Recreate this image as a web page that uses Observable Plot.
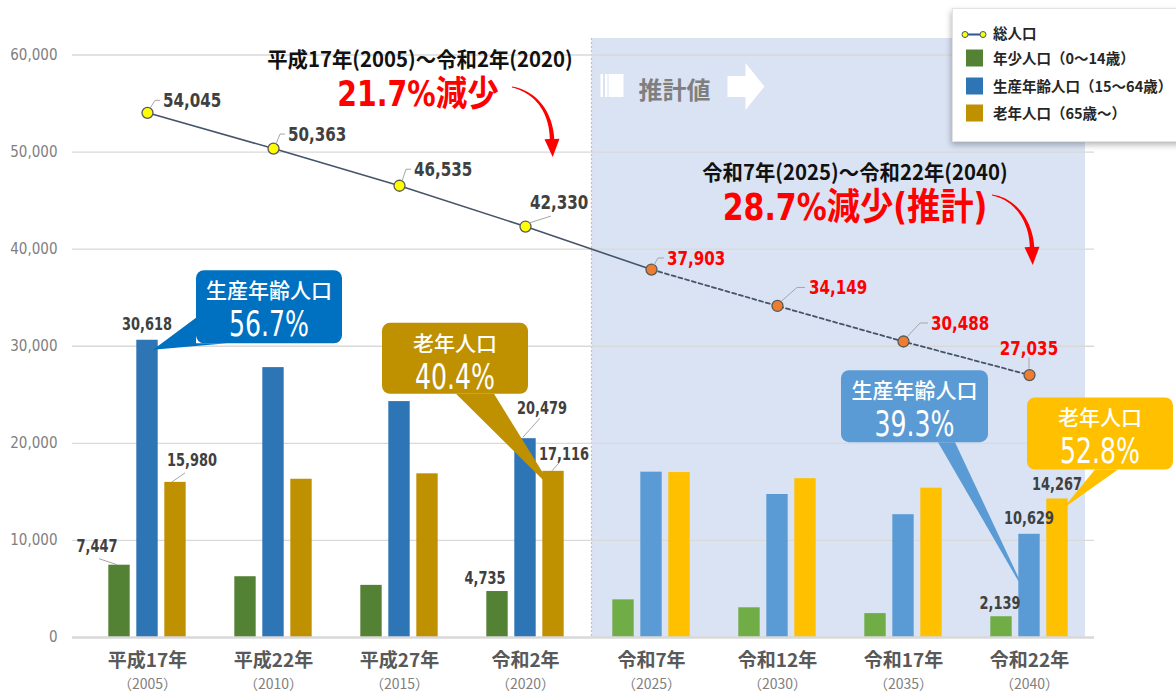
<!DOCTYPE html>
<html lang="ja">
<head>
<meta charset="utf-8">
<script src="https://cdn.jsdelivr.net/npm/d3@7"></script>
<script src="https://cdn.jsdelivr.net/npm/@observablehq/plot@0.6"></script>
<style>
html,body{margin:0;padding:0;background:#fff;overflow:hidden;}
#wrap{position:relative;width:1176px;height:696px;overflow:hidden;}
#legend{position:absolute;left:952px;top:8px;width:240px;height:132px;background:#fff;border:1px solid #e3e3e3;box-shadow:-1px 3px 6px rgba(0,0,0,0.28);font-family:"Noto Sans CJK JP",sans-serif;font-weight:700;font-size:14.5px;color:#262626;}
.li{position:absolute;left:40px;height:20px;line-height:20px;white-space:nowrap;transform:translateY(-50%);}
.sw{position:absolute;left:13px;width:17px;height:17px;transform:translateY(-50%);}
.ic{position:absolute;left:8px;transform:translateY(-50%);}
</style>
</head>
<body>
<div id="wrap"><div id="chart"></div><div id="legend"></div></div>
<script>
// ---------------- data ----------------
const eras = ["平成17年","平成22年","平成27年","令和2年","令和7年","令和12年","令和17年","令和22年"];
const yearLabels = ["（2005）","（2010）","（2015）","（2020）","（2025）","（2030）","（2035）","（2040）"];
const totalPop   = [54045, 50363, 46535, 42330, 37903, 34149, 30488, 27035];
const youthPop   = [7447, 6260, 5370, 4735, 3880, 3060, 2460, 2139];
const workingPop = [30618, 27800, 24300, 20479, 17030, 14730, 12650, 10629];
const elderlyPop = [15980, 16300, 16860, 17116, 16990, 16360, 15380, 14267];
const firstProjected = 4; // 令和7年 onward = 推計値
const yTicks = [0, 10000, 20000, 30000, 40000, 50000, 60000];
const legendNames = ["総人口", "年少人口（0～14歳）", "生産年齢人口（15～64歳）", "老年人口（65歳～）"];
const periodLabels = ["平成17年(2005)～令和2年(2020)", "令和7年(2025)～令和22年(2040)"];
const projLabel = "推計値";

// ---------------- styles ----------------
const NUM = '"Liberation Sans Narrow","DejaVu Sans Condensed","Noto Sans CJK JP",sans-serif';
const JP = '"Noto Sans CJK JP",sans-serif';
const fmt = d3.format(",");
const pct = d3.format(".1f");
const series = [
  {key: "youth",   values: youthPop,   off: -28, colors: ["#548235", "#70AD47"]},
  {key: "working", values: workingPop, off: 0,   colors: ["#2E75B6", "#5B9BD5"]},
  {key: "elderly", values: elderlyPop, off: 28,  colors: ["#BF9000", "#FFC000"]}
];
const xRange = [81, 1094];
const bandW = (xRange[1] - xRange[0]) / eras.length;
const barW = 22;

const barRows = series.map(s => eras.map((era, i) => ({era, value: s.values[i], proj: i >= firstProjected, s})));
const totalRows = eras.map((era, i) => ({era, value: totalPop[i], proj: i >= firstProjected}));

// label offsets (style only)
const totalLabelStyle = [
  {dx: 16, dy: -12, a: "start", lead: [[3,-4],[8,-12],[13,-12]]},
  {dx: 15, dy: -14, a: "start", lead: [[3,-4],[7,-14],[12,-14]]},
  {dx: 15, dy: -16, a: "start", lead: [[3,-4],[7,-16],[12,-16]]},
  {dx: 5,  dy: -24, a: "start", lead: [[4,-3],[26,-10]]},
  {dx: 16, dy: -11, a: "start", lead: [[3,-4],[7,-11],[13,-11]]},
  {dx: 32, dy: -18, a: "start", lead: [[4,-4],[20,-18],[28,-18]]},
  {dx: 28, dy: -18, a: "start", lead: [[4,-4],[17,-18],[25,-18]]},
  {dx: 0,  dy: -27, a: "middle", lead: [[0,-6],[0,-17]]}
];
const barLabelStyle = [
  {s: 0, i: 0, dx: -22, dy: -19, lead: [[-2,0],[-20,-6]]},
  {s: 1, i: 0, dx: 0, dy: -16},
  {s: 2, i: 0, dx: 17, dy: -22, lead: [[-3,0],[10,-9]]},
  {s: 1, i: 3, dx: 17, dy: -31, lead: [[-2,-1],[15,-20]]},
  {s: 2, i: 3, dx: 11, dy: -17, lead: [[-1,0],[6,-8]]},
  {s: 0, i: 3, dx: -12, dy: -14},
  {s: 0, i: 7, dx: -1, dy: -14},
  {s: 1, i: 7, dx: 0, dy: -16},
  {s: 2, i: 7, dx: 0, dy: -15}
];
const callouts = [
  {s: 1, i: 0, title: "生産年齢人口", fill: "#0070C0", box: [49, -69.5, 146, 73], poly: [[6,10],[49,-22],[49,3.5],[80,3.5]]},
  {s: 2, i: 3, title: "老年人口", fill: "#BF9000", box: [-171, -148, 146, 71], poly: [[1,20],[-97,-77],[-59,-77]]},
  {s: 1, i: 7, title: "生産年齢人口", fill: "#5B9BD5", box: [-188, -163.6, 147, 72], poly: [[-1,64],[-91,-91.6],[-74,-91.6]]},
  {s: 2, i: 7, title: "老年人口", fill: "#FFC000", box: [-30, -101, 146, 72], poly: [[6,10],[38,-29],[61,-29]]}
];

// ---------------- helpers ----------------
function cx(x, era) { const bw = typeof x.bandwidth === "function" ? x.bandwidth() : 0; return x(era) + bw / 2; }
function barTop(sc, si, i) { return [cx(sc.x, eras[i]) + series[si].off, sc.y(series[si].values[i])]; }
function pathOf(pts) { return "M" + pts.map(p => p.join(",")).join("L"); }
function taperArrow(g, p0, c1, c2, p3, w0, w1, headLen, headW, color) {
  const bez = t => { const m = 1 - t; return [0,1].map(k => m*m*m*p0[k] + 3*m*m*t*c1[k] + 3*m*t*t*c2[k] + t*t*t*p3[k]); };
  const der = t => { const m = 1 - t; return [0,1].map(k => 3*m*m*(c1[k]-p0[k]) + 6*m*t*(c2[k]-c1[k]) + 3*t*t*(p3[k]-c2[k])); };
  const L = [], R = [];
  for (let j = 0; j <= 30; j++) {
    const t = j / 30, p = bez(t), d = der(t), len = Math.hypot(d[0], d[1]) || 1;
    const nx = -d[1] / len, ny = d[0] / len, w = (w0 + (w1 - w0) * t) / 2;
    L.push([p[0] + nx * w, p[1] + ny * w]); R.push([p[0] - nx * w, p[1] - ny * w]);
  }
  const d1 = der(1), len = Math.hypot(d1[0], d1[1]), ux = d1[0] / len, uy = d1[1] / len, nx = -uy, ny = ux;
  const pts = [...L, [p3[0] + nx * headW / 2, p3[1] + ny * headW / 2], [p3[0] + ux * headLen, p3[1] + uy * headLen],
               [p3[0] - nx * headW / 2, p3[1] - ny * headW / 2], ...R.reverse()];
  g.append("path").attr("d", pathOf(pts) + "Z").attr("fill", color);
}

// ---------------- custom marks ----------------
function shadeMark(index, sc, values, dims) {
  const g = d3.create("svg:g");
  const bw = sc.x.bandwidth();
  const left = sc.x(eras[firstProjected]) + 3.5;
  const right = sc.x(eras[eras.length - 1]) + bw - 7;
  const top = dims.marginTop, bottom = sc.y(0);
  g.append("rect").attr("x", left).attr("y", top).attr("width", right - left).attr("height", bottom - top).attr("fill", "#DAE3F3");
  g.append("line").attr("x1", left).attr("x2", left).attr("y1", top).attr("y2", bottom)
    .attr("stroke", "#F4B183").attr("stroke-width", 1.2).attr("stroke-dasharray", "2,2");
  // banner
  [[9, 2.5], [13.5, 2.5], [17, 15]].forEach(([o, w]) =>
    g.append("rect").attr("x", left + o).attr("y", top + 36).attr("width", w).attr("height", 23).attr("fill", "#fff"));
  g.append("text").attr("x", left + 47).attr("y", top + 50).attr("text-anchor", "start").attr("dominant-baseline", "central")
    .attr("font-family", JP).attr("font-weight", 700).attr("font-size", 24).attr("fill", "#7F7F7F").text(projLabel);
  const ax = left + 136;
  g.append("path").attr("fill", "#fff").attr("d", pathOf([[ax, top+38],[ax+18, top+38],[ax+18, top+25],[ax+37, top+48.5],[ax+18, top+72],[ax+18, top+59],[ax, top+59]]) + "Z");
  return g.node();
}

function labelsMark(index, sc) {
  const g = d3.create("svg:g");
  totalRows.forEach((d, i) => {
    const st = totalLabelStyle[i];
    const px = cx(sc.x, d.era), py = sc.y(d.value);
    g.append("path").attr("d", pathOf(st.lead.map(([a, b]) => [px + a, py + b])))
      .attr("fill", "none").attr("stroke", "#A6A6A6").attr("stroke-width", 1);
    g.append("text").attr("x", px + st.dx).attr("y", py + st.dy).attr("text-anchor", st.a)
      .attr("dominant-baseline", "central").attr("font-family", NUM).attr("font-weight", 700).attr("font-size", 20)
      .attr("data-narrow", 0.84)
      .attr("fill", d.proj ? "#FF0000" : "#404040").text(fmt(d.value));
  });
  barLabelStyle.forEach(st => {
    const [px, py] = barTop(sc, st.s, st.i);
    if (st.lead) g.append("path").attr("d", pathOf(st.lead.map(([a, b]) => [px + a, py + b])))
      .attr("fill", "none").attr("stroke", "#A6A6A6").attr("stroke-width", 1);
    g.append("text").attr("x", px + st.dx).attr("y", py + st.dy).attr("text-anchor", "middle")
      .attr("dominant-baseline", "central").attr("font-family", NUM).attr("font-weight", 700).attr("font-size", 18)
      .attr("data-narrow", 0.8)
      .attr("fill", "#404040").text(fmt(series[st.s].values[st.i]));
  });
  return g.node();
}

function calloutsMark(index, sc) {
  const g = d3.create("svg:g");
  callouts.forEach(c => {
    const [ax, ay] = barTop(sc, c.s, c.i);
    const [l, t, w, h] = c.box;
    const gg = g.append("g").attr("transform", `translate(${ax},${ay})`);
    gg.append("path").attr("d", pathOf(c.poly) + "Z").attr("fill", c.fill);
    gg.append("rect").attr("x", l).attr("y", t).attr("width", w).attr("height", h).attr("rx", 8).attr("fill", c.fill);
    gg.append("text").attr("x", l + w / 2).attr("y", t + 19).attr("text-anchor", "middle").attr("dominant-baseline", "central")
      .attr("font-family", JP).attr("font-weight", 500).attr("font-size", 21).attr("fill", "#fff").text(c.title);
    gg.append("text").attr("x", l + w / 2).attr("y", t + 54).attr("text-anchor", "middle").attr("dominant-baseline", "central")
      .attr("font-family", NUM).attr("font-weight", 400).attr("font-size", 35).attr("fill", "#fff")
      .attr("data-narrow", 0.8)
      .text(pct(series[c.s].values[c.i] / totalPop[c.i] * 100) + "%");
  });
  return g.node();
}

function headerMark(index, sc) {
  const g = d3.create("svg:g");
  const drop1 = pct((1 - totalPop[firstProjected - 1] / totalPop[0]) * 100);
  const drop2 = pct((1 - totalPop[eras.length - 1] / totalPop[firstProjected]) * 100);
  const txt = (x, y, s, size, color, fam, narrow) => g.append("text").attr("x", x).attr("y", y).attr("text-anchor", "middle")
    .attr("dominant-baseline", "central").attr("font-family", fam).attr("font-weight", 700).attr("font-size", size)
    .attr("data-narrow", narrow).attr("fill", color).text(s);
  txt(420, 58, periodLabels[0], 21, "#111", JP, 0.97);
  txt(418, 94, drop1 + "%減少", 35, "#FF0000", NUM, 0.9);
  txt(855, 171, periodLabels[1], 21, "#111", JP, 0.97);
  txt(855, 207, drop2 + "%減少(推計)", 37, "#FF0000", NUM, 0.9);
  taperArrow(g, [512, 87], [536, 92], [551, 112], [552, 139], 1, 4.5, 18, 15, "#FF0000");
  taperArrow(g, [992, 195], [1016, 199], [1031, 222], [1032, 247], 1, 4.5, 18, 15, "#FF0000");
  return g.node();
}

// ---------------- chart ----------------
const chart = Plot.plot({
  width: 1176, height: 696,
  marginLeft: 72, marginRight: 82, marginTop: 38, marginBottom: 59,
  style: {fontFamily: JP, background: "transparent", overflow: "visible"},
  x: {type: "band", domain: eras, range: xRange, padding: 0, label: null},
  y: {domain: [0, 61700], label: null},
  color: {type: "identity"},
  marks: [
    shadeMark,
    Plot.ruleY(yTicks.filter(d => d > 0), {stroke: "#D9D9D9", strokeWidth: 1.3}),
    Plot.axisY(yTicks, {tickSize: 0, tickPadding: 15, tickFormat: fmt, fontSize: 15, color: "#808080", fontFamily: NUM, label: null}),
    Plot.axisX({tickSize: 0, tickPadding: 16, fontSize: 19, fontWeight: 700, color: "#595959", label: null}),
    Plot.text(eras, {x: d => d, text: (d, i) => yearLabels[i], frameAnchor: "bottom", dy: 51, fontSize: 14, fill: "#808080"}),
    ...series.map((s, si) => Plot.barY(barRows[si], {
      x: "era", y: "value", fill: d => d.s.colors[d.proj ? 1 : 0], dx: s.off,
      insetLeft: (bandW - barW) / 2, insetRight: (bandW - barW) / 2
    })),
    Plot.ruleY([0], {stroke: "#D9D9D9", strokeWidth: 2.5}),
    Plot.line(totalRows.slice(0, firstProjected + 1), {x: "era", y: "value", stroke: "#44546A", strokeWidth: 1.6}),
    Plot.line(totalRows.slice(firstProjected), {x: "era", y: "value", stroke: "#44546A", strokeWidth: 1.8, strokeDasharray: "4,3"}),
    Plot.dot(totalRows, {x: "era", y: "value", r: 5.5, fill: d => d.proj ? "#ED7D31" : "#FFFF00", stroke: "#595959", strokeWidth: 1.3}),
    labelsMark,
    calloutsMark,
    headerMark
  ]
});
document.getElementById("chart").appendChild(chart);

// condense numeric labels (reference uses a narrow face)
chart.querySelectorAll("text[data-narrow]").forEach(t => {
  const f = +t.getAttribute("data-narrow");
  const L = t.getComputedTextLength();
  if (L > 0 && f > 0) { t.setAttribute("textLength", (L * f).toFixed(1)); t.setAttribute("lengthAdjust", "spacingAndGlyphs"); }
});

// ---------------- legend ----------------
const legend = document.getElementById("legend");
const rowsY = [24, 49, 77, 104];
const swatches = [null, series[0].colors[0], series[1].colors[0], series[2].colors[0]];
legendNames.forEach((name, k) => {
  if (k === 0) {
    const ic = document.createElement("div");
    ic.className = "ic"; ic.style.top = rowsY[k] + "px";
    ic.innerHTML = '<svg width="26" height="10"><line x1="4" y1="5" x2="22" y2="5" stroke="#2F5597" stroke-width="2"/><circle cx="4" cy="5" r="3" fill="#FFFF00" stroke="#2F5597" stroke-width="1"/><circle cx="22" cy="5" r="3" fill="#FFFF00" stroke="#2F5597" stroke-width="1"/></svg>';
    legend.appendChild(ic);
  } else {
    const sw = document.createElement("div");
    sw.className = "sw"; sw.style.top = rowsY[k] + "px"; sw.style.background = swatches[k];
    legend.appendChild(sw);
  }
  const li = document.createElement("div");
  li.className = "li"; li.style.top = rowsY[k] + "px"; li.textContent = name;
  legend.appendChild(li);
});
</script>
</body>
</html>
